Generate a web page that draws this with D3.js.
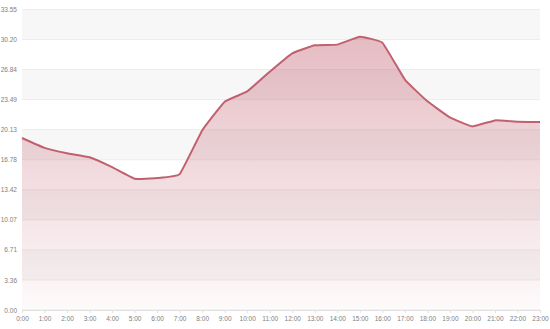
<!DOCTYPE html>
<html>
<head>
<meta charset="utf-8">
<script src="https://cdn.jsdelivr.net/npm/d3@7"></script>
<style>
  html, body { margin: 0; padding: 0; background: #fff; }
  svg { display: block; }
  .tick text { font-family: "Liberation Sans", Arial, sans-serif; font-size: 6.5px; fill: #808080; }
</style>
</head>
<body>
<div id="chart"></div>
<script>
const hours = ['0:00','1:00','2:00','3:00','4:00','5:00','6:00','7:00','8:00','9:00','10:00','11:00',
  '12:00','13:00','14:00','15:00','16:00','17:00','18:00','19:00','20:00','21:00','22:00','23:00'];
const values = [19.2, 18.1, 17.5, 17.05, 15.95, 14.65, 14.73, 15.17, 20.05, 23.26, 24.4, 26.6,
  28.65, 29.56, 29.63, 30.50, 29.85, 25.72, 23.3, 21.5, 20.5, 21.17, 21.02, 20.99];
const yMax = 33.55;
const yTickValues = [0, 3.355, 6.71, 10.065, 13.42, 16.775, 20.13, 23.485, 26.84, 30.195, 33.55];
const yTickLabels = ['0.00','3.36','6.71','10.07','13.42','16.78','20.13','23.49','26.84','30.20','33.55'];

const W = 550, H = 329;
const M = { top: 9.5, right: 10, bottom: 19, left: 22 };
const iw = W - M.left - M.right, ih = H - M.top - M.bottom;

const svg = d3.select('#chart').append('svg').attr('width', W).attr('height', H);
const g = svg.append('g').attr('transform', `translate(${M.left},${M.top})`);

const x = d3.scalePoint().domain(hours).range([0, iw]);
const y = d3.scaleLinear().domain([0, yMax]).range([ih, 0]);

// alternating bands
const bands = d3.range(yTickValues.length - 1);
g.selectAll('rect.band').data(bands).enter().append('rect')
  .attr('class', 'band')
  .attr('x', 0).attr('width', iw)
  .attr('y', i => y(yTickValues[i + 1]))
  .attr('height', i => y(yTickValues[i]) - y(yTickValues[i + 1]))
  .attr('fill', i => i % 2 ? '#f7f7f7' : '#ffffff');

// grid lines
g.selectAll('line.grid').data(yTickValues).enter().append('line')
  .attr('class', 'grid')
  .attr('x1', 0).attr('x2', iw)
  .attr('y1', d => y(d)).attr('y2', d => y(d))
  .attr('stroke', '#ececec').attr('stroke-width', 1);

const defs = svg.append('defs');
const grad = defs.append('linearGradient').attr('id', 'fillGrad')
  .attr('gradientUnits', 'userSpaceOnUse')
  .attr('x1', 0).attr('x2', 0).attr('y1', y(values[15])).attr('y2', ih);
grad.append('stop').attr('offset', '0%').attr('stop-color', '#c1606f').attr('stop-opacity', 0.42);
grad.append('stop').attr('offset', '100%').attr('stop-color', '#c1606f').attr('stop-opacity', 0.03);

const curve = d3.curveCardinal.tension(0.7);
const area = d3.area()
  .x((d, i) => x(hours[i])).y0(ih).y1(d => y(d)).curve(curve);
const line = d3.line()
  .x((d, i) => x(hours[i])).y(d => y(d)).curve(curve);

g.append('path').datum(values).attr('d', area).attr('fill', 'url(#fillGrad)');
g.append('path').datum(values).attr('d', line)
  .attr('fill', 'none').attr('stroke', '#c1606f').attr('stroke-width', 2);

// axes
const yAxis = g.append('g')
  .call(d3.axisLeft(y).tickValues(yTickValues).tickSize(0).tickPadding(5)
    .tickFormat((d, i) => yTickLabels[i]));
yAxis.select('.domain').remove();

const xAxis = g.append('g').attr('transform', `translate(0,${ih})`)
  .call(d3.axisBottom(x).tickSize(3).tickPadding(3));
xAxis.select('.domain').attr('stroke', '#e0e0e0');
xAxis.selectAll('.tick line').attr('stroke', '#e0e0e0');
</script>
</body>
</html>
